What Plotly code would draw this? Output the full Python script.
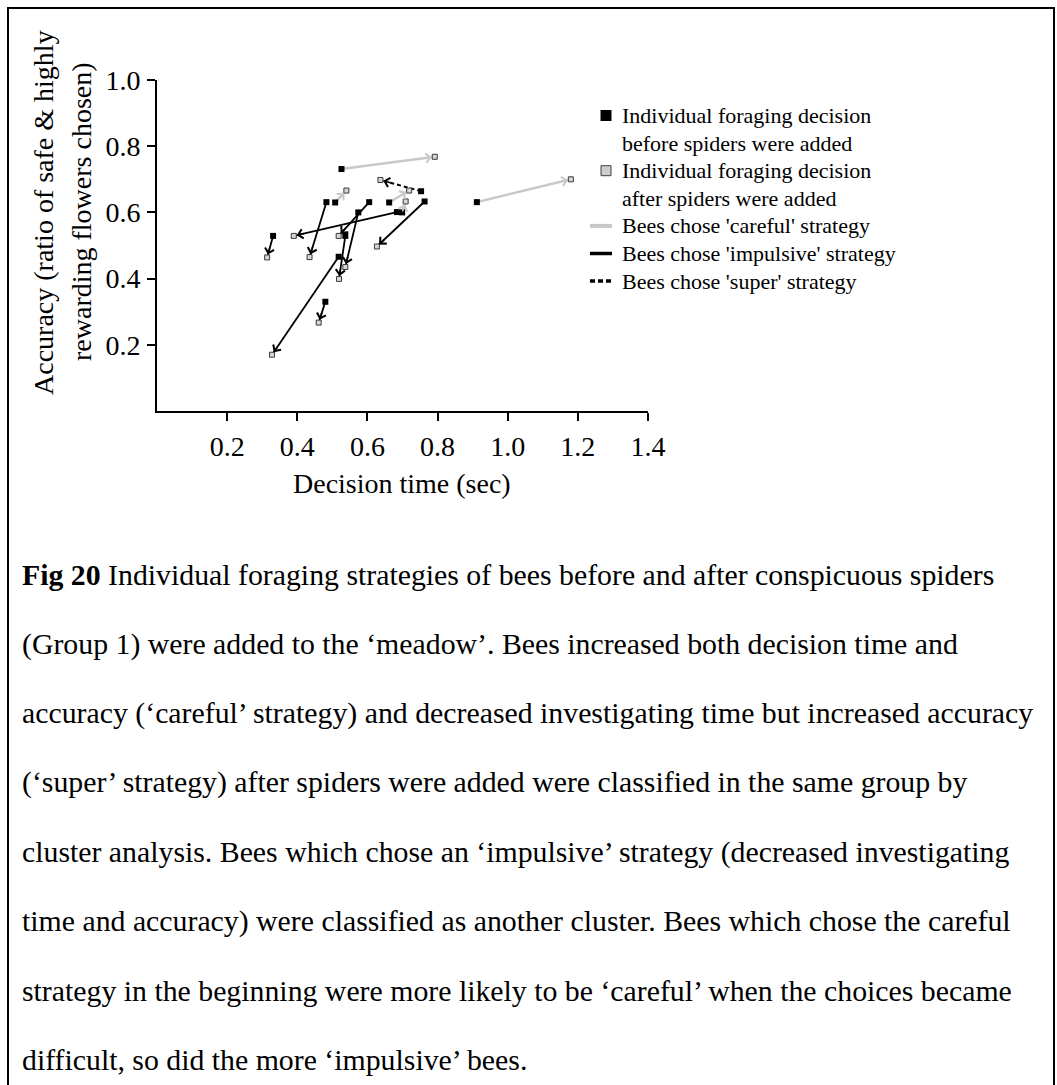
import math
import plotly.graph_objects as go

SERIF = "Liberation Serif, Times New Roman, serif"

# ---- data: one entry per bee (decision time in s, accuracy ratio) ----
time_before = [0.331, 0.483, 0.605, 0.574, 0.684, 0.537, 0.518, 0.480, 0.763,
               0.526, 0.508, 0.662, 0.699, 0.912, 0.753]
acc_before = [0.529, 0.631, 0.631, 0.600, 0.601, 0.529, 0.466, 0.330, 0.633,
              0.731, 0.630, 0.630, 0.600, 0.631, 0.664]
time_after = [0.314, 0.435, 0.518, 0.537, 0.390, 0.519, 0.328, 0.461, 0.627,
              0.792, 0.540, 0.719, 0.709, 1.180, 0.637]
acc_after = [0.464, 0.465, 0.529, 0.435, 0.529, 0.399, 0.170, 0.267, 0.497,
             0.768, 0.666, 0.666, 0.633, 0.700, 0.698]
strategy = ["impulsive", "impulsive", "impulsive", "impulsive", "impulsive",
            "impulsive", "impulsive", "impulsive", "impulsive",
            "careful", "careful", "careful", "careful", "careful",
            "super"]

x_ticks = [0.2, 0.4, 0.6, 0.8, 1.0, 1.2, 1.4]
x_tick_labels = ["0.2", "0.4", "0.6", "0.8", "1.0", "1.2", "1.4"]
y_ticks = [0.2, 0.4, 0.6, 0.8, 1.0]
y_tick_labels = ["0.2", "0.4", "0.6", "0.8", "1.0"]

legend_entries = [
    (["Individual foraging decision", "before spiders were added"], "before"),
    (["Individual foraging decision", "after spiders were added"], "after"),
    (["Bees chose 'careful' strategy"], "careful"),
    (["Bees chose 'impulsive' strategy"], "impulsive"),
    (["Bees chose 'super' strategy"], "super"),
]

caption_lines = [
    "<b>Fig 20</b> Individual foraging strategies of bees before and after conspicuous spiders",
    "(Group 1) were added to the \u2018meadow\u2019. Bees increased both decision time and",
    "accuracy (\u2018careful\u2019 strategy) and decreased investigating time but increased accuracy",
    "(\u2018super\u2019 strategy) after spiders were added were classified in the same group by",
    "cluster analysis. Bees which chose an \u2018impulsive\u2019 strategy (decreased investigating",
    "time and accuracy) were classified as another cluster. Bees which chose the careful",
    "strategy in the beginning were more likely to be \u2018careful\u2019 when the choices became",
    "difficult, so did the more \u2018impulsive\u2019 bees.",
]

# ---- styles ----
STYLE = {
    "careful": dict(color="#c8c8c8", width=2.5, dash="solid"),
    "impulsive": dict(color="#000000", width=1.8, dash="solid"),
    "super": dict(color="#000000", width=2.0, dash="4px,3px"),
}
HOLLOW_FILL = "#d6d6d6"
HOLLOW_EDGE = "#3a3a3a"

# ---- page geometry (px) ----
W, H = 1057, 1085
ML, MR, MT, MB = 157, 409, 80, 674
PW, PH = W - ML - MR, H - MT - MB
X_RANGE = (0.0, 1.4)
Y_RANGE = (0.0, 1.0)


def px_x(px):
    """Page pixel column -> paper coordinate."""
    return (px - ML) / PW


def px_y(py):
    """Page pixel row -> paper coordinate."""
    return (H - MB - py) / PH


fig = go.Figure()

# connecting lines, one trace per strategy
for name, st in STYLE.items():
    xs, ys = [], []
    for tb, ab, ta, aa, s in zip(time_before, acc_before, time_after, acc_after, strategy):
        if s == name:
            xs += [tb, ta, None]
            ys += [ab, aa, None]
    fig.add_trace(go.Scatter(x=xs, y=ys, mode="lines", showlegend=False,
                             line=dict(color=st["color"], width=st["width"], dash=st["dash"]),
                             hoverinfo="skip"))

fig.add_trace(go.Scatter(x=time_before, y=acc_before, mode="markers", showlegend=False,
                         marker=dict(symbol="square", size=6, color="#000000")))
fig.add_trace(go.Scatter(x=time_after, y=acc_after, mode="markers", showlegend=False,
                         marker=dict(symbol="square", size=5, color=HOLLOW_FILL,
                                     line=dict(color=HOLLOW_EDGE, width=1))))

# open arrowheads at the "after" end of each segment
px_per_x = PW / (X_RANGE[1] - X_RANGE[0])
px_per_y = PH / (Y_RANGE[1] - Y_RANGE[0])
TAIL = 12
annotations = []
for tb, ab, ta, aa, s in zip(time_before, acc_before, time_after, acc_after, strategy):
    dx = (ta - tb) * px_per_x
    dy = -(aa - ab) * px_per_y
    n = math.hypot(dx, dy)
    annotations.append(dict(
        x=ta, y=aa, xref="x", yref="y", text="",
        showarrow=True, arrowhead=4, arrowsize=1.2, arrowwidth=1.5,
        arrowcolor=STYLE[s]["color"], standoff=3,
        ax=-dx / n * TAIL, ay=-dy / n * TAIL,
    ))

# axis titles
TITLE_FS = 28
annotations.append(dict(x=px_x(43), y=px_y(213), xref="paper", yref="paper",
                        text="Accuracy (ratio of safe &amp; highly", textangle=-90,
                        showarrow=False, xanchor="center", yanchor="middle",
                        font=dict(family=SERIF, size=TITLE_FS, color="black")))
annotations.append(dict(x=px_x(81), y=px_y(212), xref="paper", yref="paper",
                        text="rewarding flowers chosen)", textangle=-90,
                        showarrow=False, xanchor="center", yanchor="middle",
                        font=dict(family=SERIF, size=TITLE_FS, color="black")))
annotations.append(dict(x=px_x(402), y=px_y(483), xref="paper", yref="paper",
                        text="Decision time (sec)", showarrow=False,
                        xanchor="center", yanchor="middle",
                        font=dict(family=SERIF, size=TITLE_FS, color="black")))

# key, top right of the plot
shapes = []
LEG_FS = 22
LEG_ROW0, LEG_ROW = 115.5, 27.6
LEG_TEXT_X = 620
row = 0
for lines, kind in legend_entries:
    yc = LEG_ROW0 + row * LEG_ROW
    if kind == "before":
        shapes.append(dict(type="rect", xref="paper", yref="paper",
                           x0=px_x(600.5), x1=px_x(611.5), y0=px_y(yc + 5.5), y1=px_y(yc - 5.5),
                           fillcolor="#000000", line=dict(width=0)))
    elif kind == "after":
        shapes.append(dict(type="rect", xref="paper", yref="paper",
                           x0=px_x(601), x1=px_x(611), y0=px_y(yc + 5), y1=px_y(yc - 5),
                           fillcolor="#cccccc", line=dict(color="#404040", width=1)))
    else:
        st = STYLE[kind]
        dash = "5px,3px" if kind == "super" else "solid"
        shapes.append(dict(type="line", xref="paper", yref="paper",
                           x0=px_x(590), x1=px_x(612), y0=px_y(yc), y1=px_y(yc),
                           line=dict(color=st["color"], width=4 if kind == "careful" else 3.5,
                                     dash=dash)))
    for ln in lines:
        annotations.append(dict(x=px_x(LEG_TEXT_X), y=px_y(LEG_ROW0 + row * LEG_ROW),
                                xref="paper", yref="paper", text=ln, showarrow=False,
                                xanchor="left", yanchor="middle",
                                font=dict(family=SERIF, size=LEG_FS, color="black")))
        row += 1

# figure caption below the chart
CAP_FS = 29.8
CAP_BASE0, CAP_STEP = 585, 69.2
for i, ln in enumerate(caption_lines):
    base = CAP_BASE0 + i * CAP_STEP
    annotations.append(dict(x=px_x(20), y=px_y(base - 0.34 * CAP_FS), xref="paper", yref="paper",
                            text=ln, showarrow=False, xanchor="left", yanchor="middle",
                            font=dict(family=SERIF, size=CAP_FS, color="black")))

# page frame
shapes.append(dict(type="rect", xref="paper", yref="paper",
                   x0=px_x(8), x1=px_x(1054), y0=px_y(1100), y1=px_y(8),
                   line=dict(color="black", width=2), fillcolor="rgba(0,0,0,0)"))

axis_common = dict(showline=True, linecolor="black", linewidth=2, ticks="outside",
                   ticklen=8, tickwidth=2, tickcolor="black", showgrid=False, zeroline=False,
                   tickfont=dict(family=SERIF, size=28, color="black"))

fig.update_layout(
    width=W, height=H,
    margin=dict(l=ML, r=MR, t=MT, b=MB, pad=0),
    paper_bgcolor="white", plot_bgcolor="white",
    showlegend=False,
    xaxis=dict(range=list(X_RANGE), tickvals=x_ticks, ticktext=x_tick_labels,
               ticklabelstandoff=1, **axis_common),
    yaxis=dict(range=list(Y_RANGE), tickvals=y_ticks, ticktext=y_tick_labels,
               ticklabelstandoff=1, **axis_common),
    annotations=annotations,
    shapes=shapes,
)

fig.write_html("out.html")
